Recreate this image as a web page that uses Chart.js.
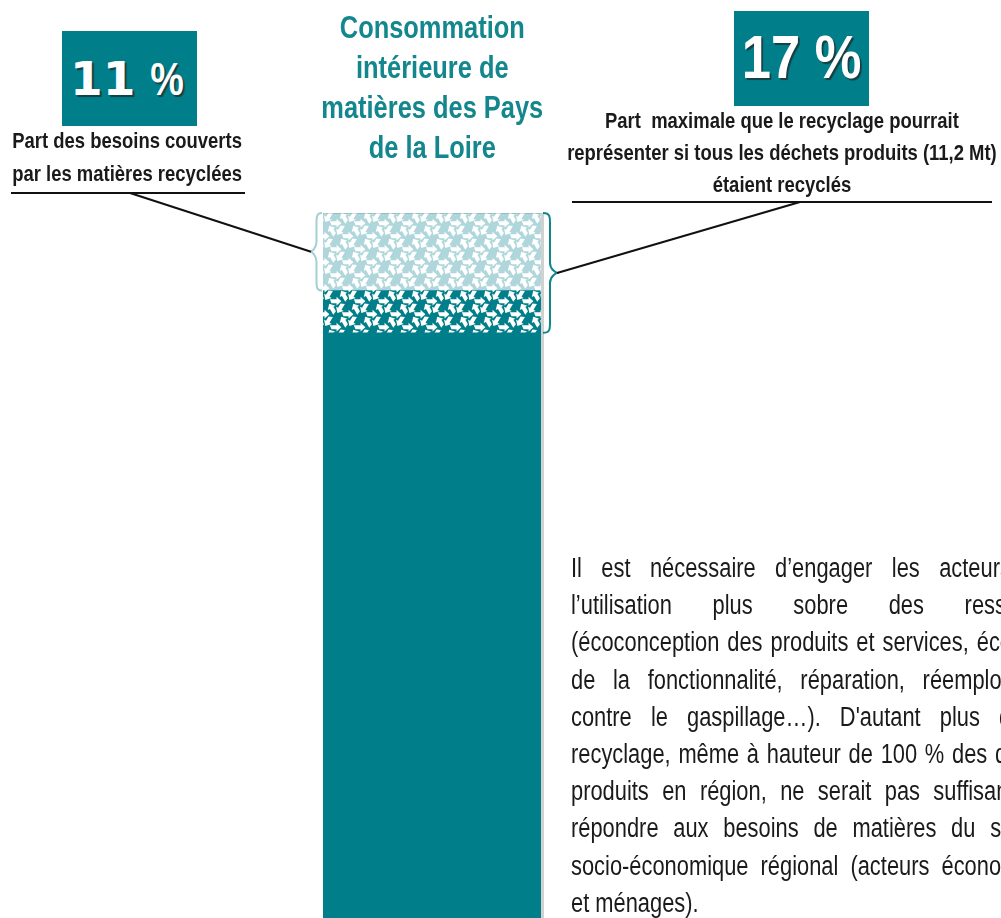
<!DOCTYPE html>
<html lang="fr">
<head>
<meta charset="utf-8">
<script src="https://cdn.jsdelivr.net/npm/chart.js@4.4.1/dist/chart.umd.min.js"></script>
<style>
  html, body { margin: 0; padding: 0; background: #fff; }
  body { width: 1001px; height: 918px; overflow: hidden; position: relative;
         font-family: 'Liberation Sans', Arial, sans-serif; }
  #chart { position: absolute; left: 0; top: 0; }
  .abs { position: absolute; }
  /* Arial Narrow look: Liberation Sans squeezed horizontally */
  .nar { display: inline-block; transform: scaleX(0.82); transform-origin: center; white-space: nowrap; }
  .title { left: 232px; top: 8px; width: 400px; text-align: center; color: #13868e;
           font-weight: bold; font-size: 31px; line-height: 40px; }
  .pct { background: #007f8a; color: #fff; width: 135px; height: 95px; display: flex;
         align-items: center; justify-content: center; font-weight: bold;
         text-shadow: 2px 2px 1px #173f42; white-space: nowrap; }
  .pct .num { font-family: 'DejaVu Sans', sans-serif; }
  .cap { font-weight: bold; font-size: 22.5px; color: #1a1a1a; text-align: center; }
  .para { left: 571px; top: 550px; font-size: 27px; line-height: 37.2px; color: #1a1a1a; }
  .para div { width: 618px; text-align: justify; text-align-last: justify;
              transform: scaleX(0.81); transform-origin: left; }
  .para div.last { text-align-last: left; }
</style>
</head>
<body>
<canvas id="chart" width="1001" height="918"></canvas>

<div class="abs title"><span class="nar">Consommation<br>intérieure de<br>matières des Pays<br>de la Loire</span></div>

<div class="abs pct" style="left:62px; top:31px;"><span class="num" style="font-size:47px;">11</span><span class="nar" style="font-size:46px;">&nbsp;%</span></div>
<div class="abs cap" style="left:-173px; top:124px; width:600px; line-height:33px;"><span class="nar">Part des besoins couverts<br>par les matières recyclées</span></div>

<div class="abs pct" style="left:734px; top:11px; font-size:61px; padding-bottom:4px; box-sizing:border-box;"><span class="nar" style="transform:scaleX(0.86);">17 %</span></div>
<div class="abs cap" style="left:482px; top:105px; width:600px; line-height:32px;"><span class="nar">Part&nbsp; maximale que le recyclage pourrait<br>représenter si tous les déchets produits (11,2 Mt)<br>étaient recyclés</span></div>

<div class="abs para">
  <div>Il est nécessaire d’engager les acteurs vers</div>
  <div>l’utilisation plus sobre des ressources</div>
  <div>(écoconception des produits et services, économie</div>
  <div>de la fonctionnalité, réparation, réemploi, lutte</div>
  <div>contre le gaspillage…). D'autant plus que le</div>
  <div>recyclage, même à hauteur de 100 % des déchets</div>
  <div>produits en région, ne serait pas suffisant pour</div>
  <div>répondre aux besoins de matières du système</div>
  <div>socio-économique régional (acteurs économiques</div>
  <div class="last">et ménages).</div>
</div>

<script>
// data (% of domestic material consumption)
const categories = ['Consommation intérieure de matières'];
const autresMatieres = [83];      // rest of the needs
const potentielRecyclage = [6];   // extra share if all waste were recycled (17 - 11)
const matieresRecyclees = [11];   // share covered by recycled materials

const TEAL = '#007f8a';
const LIGHT = '#aed6db';

// recycle symbol = three chunky arrows turning round the centre
function recycleSymbol(g, cx, cy, s) {
  for (let k = 0; k < 3; k++) {
    g.save();
    g.translate(cx, cy);
    g.rotate(k * 2 * Math.PI / 3);
    g.scale(s, s);
    g.beginPath();
    g.moveTo(-5.5, -6);
    g.lineTo(0.5, -6);
    g.lineTo(0.5, -8.2);
    g.lineTo(4.8, -4.2);
    g.lineTo(0.5, -0.4);
    g.lineTo(0.5, -2.4);
    g.lineTo(-4, -2.4);
    g.closePath();
    g.fill();
    g.restore();
  }
}
function makePattern(bg) {
  const c = document.createElement('canvas');
  c.width = 24; c.height = 26;
  const g = c.getContext('2d');
  g.fillStyle = bg; g.fillRect(0, 0, c.width, c.height);
  g.fillStyle = '#ffffff';
  const s = 1.12;
  recycleSymbol(g, 12, 7, s);
  recycleSymbol(g, 0, 20, s);
  recycleSymbol(g, 24, 20, s);
  recycleSymbol(g, 0, -6, s);
  recycleSymbol(g, 24, -6, s);
  recycleSymbol(g, 12, 33, s);
  return g.createPattern(c, 'repeat');
}

function brace(ctx, x, y1, y2, dir, w) {
  const ym = (y1 + y2) / 2, h = w / 2;
  ctx.beginPath();
  ctx.moveTo(x, y1);
  ctx.bezierCurveTo(x + dir * h, y1, x + dir * h, y1 + 4, x + dir * h, y1 + 10);
  ctx.lineTo(x + dir * h, ym - 10);
  ctx.bezierCurveTo(x + dir * h, ym - 3, x + dir * w, ym, x + dir * w, ym);
  ctx.bezierCurveTo(x + dir * w, ym, x + dir * h, ym + 3, x + dir * h, ym + 10);
  ctx.lineTo(x + dir * h, y2 - 10);
  ctx.bezierCurveTo(x + dir * h, y2 - 4, x + dir * h, y2, x, y2);
  ctx.stroke();
}

const annotations = {
  id: 'annotations',
  afterDatasetsDraw(chart) {
    const ctx = chart.ctx;
    const base = chart.getDatasetMeta(0).data[0];
    const mid = chart.getDatasetMeta(1).data[0];
    const top = chart.getDatasetMeta(2).data[0];
    const left = top.x - top.width / 2, right = top.x + top.width / 2;
    ctx.save();
    // bar shadow on the right side
    ctx.fillStyle = 'rgba(0,0,0,0.18)';
    ctx.fillRect(right, top.y, 3, base.base - top.y);
    ctx.fillStyle = 'rgba(0,0,0,0.12)';
    ctx.fillRect(left, top.y, right - left, 1);

    ctx.lineWidth = 2;
    // left brace: recycled share (11 %)
    ctx.strokeStyle = '#a3d0d5';
    brace(ctx, left - 1, top.y, top.base, -1, 11);
    // right brace: maximum share (17 %)
    ctx.strokeStyle = '#11858e';
    brace(ctx, right + 2, top.y, mid.base, 1, 14);

    // underlines and leader lines
    ctx.strokeStyle = '#111';
    ctx.beginPath();
    ctx.moveTo(11, 193); ctx.lineTo(245, 193);
    ctx.moveTo(130, 193); ctx.lineTo(left - 12, (top.y + top.base) / 2);
    ctx.moveTo(572, 202); ctx.lineTo(992, 202);
    ctx.moveTo(800, 202); ctx.lineTo(right + 16, (top.y + mid.base) / 2);
    ctx.stroke();
    ctx.restore();
  }
};

const canvas = document.getElementById('chart');
new Chart(canvas, {
  type: 'bar',
  data: {
    labels: categories,
    datasets: [
      { label: 'Autres matières', data: autresMatieres, backgroundColor: TEAL },
      { label: 'Potentiel de recyclage', data: potentielRecyclage, backgroundColor: makePattern(TEAL) },
      { label: 'Matières recyclées', data: matieresRecyclees, backgroundColor: makePattern(LIGHT) },
    ],
  },
  options: {
    responsive: false, animation: false,
    layout: { padding: { left: 323, right: 460, top: 213, bottom: 0 } },
    datasets: { bar: { barPercentage: 1, categoryPercentage: 1 } },
    plugins: { legend: { display: false }, tooltip: { enabled: false } },
    scales: {
      x: { display: false, stacked: true },
      y: { display: false, stacked: true, min: 0, max: 100 },
    },
  },
  plugins: [annotations],
});
</script>
</body>
</html>
